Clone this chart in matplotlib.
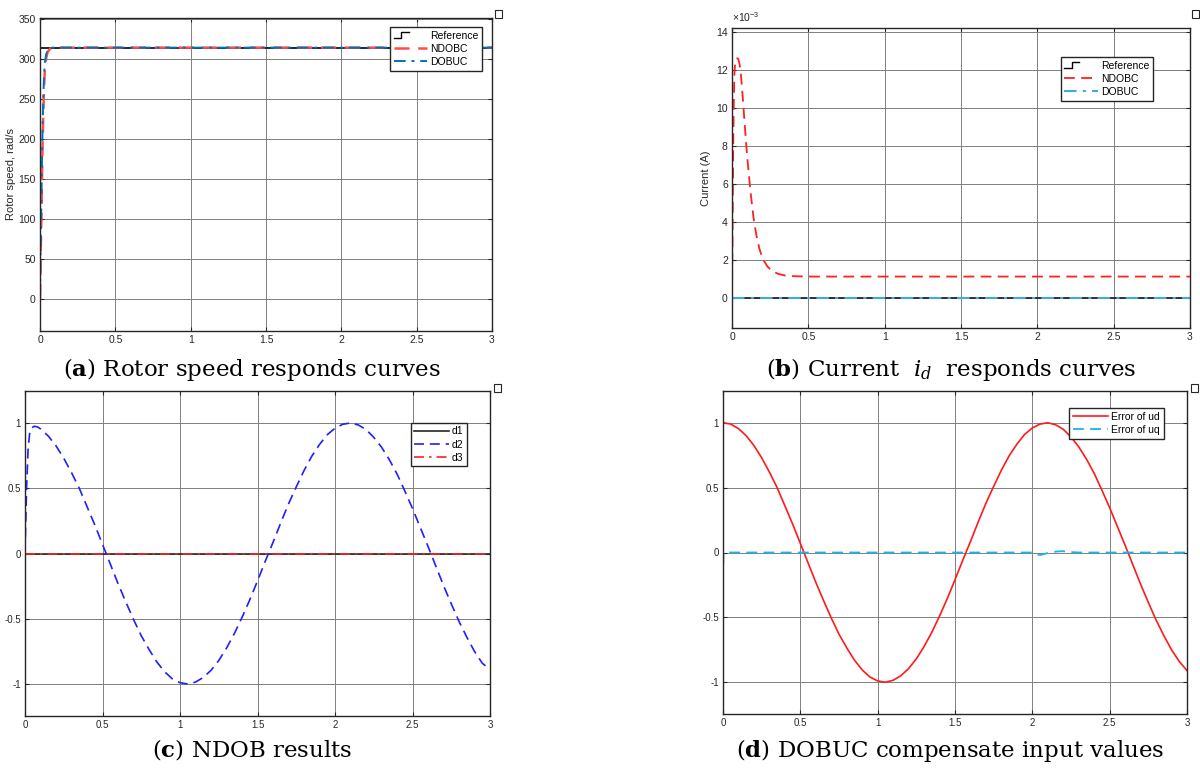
import matplotlib
matplotlib.use("Agg")
import matplotlib.pyplot as plt
import numpy as np
from matplotlib.legend_handler import HandlerBase
from matplotlib.lines import Line2D
from matplotlib.patches import Rectangle

# ---------------- data ----------------
# (a) rotor speed, rad/s
t_a = [0, 0.002, 0.004, 0.007, 0.01, 0.013, 0.017, 0.021, 0.026, 0.032, 0.04, 0.05, 0.06, 0.07, 0.085, 0.1, 3]
ref_a_t = [0, 0, 3]
ref_a = [0, 314, 314]
ndobc_a = [0, 25, 50, 80, 110, 150, 190, 225, 260, 285, 300, 308, 311, 313, 314, 314, 314]
dobuc_a = [0, 30, 60, 95, 130, 170, 210, 245, 275, 295, 305, 310, 312, 313.5, 314, 314, 314]

# (b) current id, A
t_b = [0, 0.004, 0.008, 0.012, 0.016, 0.02, 0.03, 0.04, 0.05, 0.06, 0.07, 0.08, 0.09, 0.1,
       0.12, 0.14, 0.16, 0.18, 0.2, 0.23, 0.26, 0.3, 0.35, 0.4, 0.45, 0.5, 3]
ndobc_b = np.array([0, 4.0, 8.0, 10.5, 11.8, 12.3, 12.6, 12.6, 12.3, 11.6, 10.6, 9.5, 8.4, 7.4,
                    5.7, 4.3, 3.3, 2.6, 2.1, 1.7, 1.45, 1.3, 1.2, 1.17, 1.16, 1.15, 1.15]) * 1e-3
ref_b_t = [0, 3]
ref_b = [0, 0]
dobuc_b = [0, 0]

# (c) NDOB results
t_c = [0, 0.01, 0.02, 0.03, 0.04, 0.06, 0.08, 0.1] + list(np.round(np.arange(0.15, 3.001, 0.05), 2))
d2 = [0, 0.5, 0.8, 0.92, 0.96, 0.975, 0.97, 0.955,
      0.90, 0.825, 0.73, 0.62, 0.50, 0.36, 0.22, 0.07, -0.08, -0.23, -0.37, -0.505,
      -0.63, -0.735, -0.83, -0.905, -0.96, -0.99, -1.0, -0.985, -0.95, -0.895, -0.82, -0.725,
      -0.615, -0.49, -0.355, -0.21, -0.06, 0.085, 0.235, 0.38, 0.51, 0.635, 0.745, 0.835,
      0.91, 0.96, 0.99, 1.0, 0.985, 0.95, 0.89, 0.815, 0.72, 0.61, 0.48, 0.345, 0.2, 0.055,
      -0.095, -0.245, -0.385, -0.52, -0.64, -0.75, -0.84, -0.89]
d_t = [0, 3]
d1 = [0, 0]
d3 = [0, 0]

# (d) DOBUC compensate input values
t_d = list(np.round(np.arange(0, 3.001, 0.05), 2))
ud = [1.0, 0.99, 0.955, 0.90, 0.825, 0.73, 0.62, 0.50, 0.36, 0.22, 0.07, -0.08, -0.23, -0.37,
      -0.505, -0.63, -0.735, -0.83, -0.905, -0.96, -0.99, -1.0, -0.985, -0.95, -0.895, -0.82,
      -0.725, -0.615, -0.49, -0.355, -0.21, -0.06, 0.085, 0.235, 0.38, 0.51, 0.635, 0.745,
      0.835, 0.91, 0.96, 0.99, 1.0, 0.985, 0.95, 0.89, 0.815, 0.72, 0.61, 0.48, 0.345, 0.2,
      0.055, -0.095, -0.245, -0.385, -0.52, -0.64, -0.75, -0.84, -0.91]
t_uq = [0, 0.003, 0.01, 2.0, 2.03, 2.05, 2.08, 2.12, 2.16, 2.2, 2.25, 2.3, 3]
uq = [-0.22, 0, 0, 0, -0.015, -0.02, -0.01, 0.0, 0.008, 0.01, 0.003, 0, 0]

x_ticks = [0, 0.5, 1, 1.5, 2, 2.5, 3]
x_labels = ["0", "0.5", "1", "1.5", "2", "2.5", "3"]

captions = [r"($\mathbf{a}$) Rotor speed responds curves",
            r"($\mathbf{b}$) Current  $i_d$  responds curves",
            r"($\mathbf{c}$) NDOB results",
            r"($\mathbf{d}$) DOBUC compensate input values"]

# ---------------- style ----------------
plt.rcParams["font.family"] = ["Liberation Sans", "DejaVu Sans"]
plt.rcParams["mathtext.fontset"] = "custom"
plt.rcParams["mathtext.rm"] = "DejaVu Serif"
plt.rcParams["mathtext.it"] = "DejaVu Serif:italic"
plt.rcParams["mathtext.bf"] = "DejaVu Serif:bold"
plt.rcParams["mathtext.sf"] = "Liberation Sans"

DASH = (0, (6, 3.5))
DASHDOT = (0, (6, 3, 1.5, 3))


class HandlerStep(HandlerBase):
    # little step icon MATLAB uses for a step source
    def create_artists(self, legend, orig_handle, xdescent, ydescent, width, height, fontsize, trans):
        w = width * 0.45
        xs = [-xdescent, -xdescent + w * 0.5, -xdescent + w * 0.5, -xdescent + w]
        ys = [-ydescent + height * 0.1, -ydescent + height * 0.1, -ydescent + height * 0.9, -ydescent + height * 0.9]
        ln = Line2D(xs, ys, color="black", lw=1.0, transform=trans)
        return [ln]


W, H = 1200, 770
fig = plt.figure(figsize=(12, 7.7), dpi=100)


def px_axes(l, t, r, b):
    return fig.add_axes([l / W, 1 - b / H, (r - l) / W, (b - t) / H])


def style(ax, ylim, yticks, ylabels, fs=7):
    ax.set_xlim(0, 3)
    ax.set_ylim(*ylim)
    ax.set_xticks(x_ticks)
    ax.set_xticklabels(x_labels)
    ax.set_yticks(yticks)
    ax.set_yticklabels(ylabels)
    ax.tick_params(direction="in", length=3, width=0.8, labelsize=fs, colors="#262626",
                   top=True, right=True, pad=3)
    ax.grid(True, color="#808080", lw=0.7)
    ax.set_axisbelow(True)
    for s in ax.spines.values():
        s.set_color("#262626")
        s.set_linewidth(1.0)


def add_legend(ax, handles, labels, anchor, hl=3.2, step=True):
    hmap = {handles[0]: HandlerStep()} if step else {}
    leg = ax.legend(handles, labels, loc="upper right", bbox_to_anchor=anchor, fontsize=7.5,
                    frameon=True, fancybox=False, framealpha=1, edgecolor="#262626",
                    handlelength=hl, handletextpad=0.3, borderpad=0.35, labelspacing=0.3,
                    borderaxespad=0, handler_map=hmap)
    leg.get_frame().set_linewidth(1.0)
    return leg


# ---------------- (a) ----------------
ax = px_axes(40, 18, 492, 331)
ax.plot(ref_a_t, ref_a, color="#262626", lw=1.4)
ax.plot(t_a, ndobc_a, color="#ff4d4d", lw=1.8, ls=DASH)
ax.plot(t_a, dobuc_a, color="#0072bd", lw=1.4, ls=DASHDOT)
style(ax, (-40, 351), [0, 50, 100, 150, 200, 250, 300, 350],
      ["0", "50", "100", "150", "200", "250", "300", "350"], fs=7.5)
ax.set_ylabel("Rotor speed, rad/s", fontsize=8, color="#262626", labelpad=2)
h = [Line2D([], [], color="k"),
     Line2D([], [], color="#ff4d4d", lw=1.8, ls=DASH),
     Line2D([], [], color="#0072bd", lw=1.4, ls=DASHDOT)]
add_legend(ax, h, ["Reference", "NDOBC", "DOBUC"], (0.978, 0.971))

# ---------------- (b) ----------------
ax = px_axes(732, 28, 1190, 328)
ax.plot(ref_b_t, ref_b, color="#262626", lw=1.3)
ax.plot(t_b, ndobc_b, color="#ff2020", lw=1.3, ls=DASH)
ax.plot(ref_b_t, dobuc_b, color="#3fa9e0", lw=1.5, ls=DASHDOT)
style(ax, (-1.55e-3, 14.2e-3), np.arange(0, 15, 2) * 1e-3, [str(v) for v in range(0, 15, 2)], fs=7.5)
ax.set_ylabel("Current (A)", fontsize=8, color="#262626", labelpad=4)
ax.text(0.0, 1.012, r"$\mathsf{\times 10^{-3}}$", transform=ax.transAxes, fontsize=7.5,
        color="#262626", ha="left", va="bottom")
h = [Line2D([], [], color="k"),
     Line2D([], [], color="#ff2020", lw=1.3, ls=DASH),
     Line2D([], [], color="#3fa9e0", lw=1.5, ls=DASHDOT)]
add_legend(ax, h, ["Reference", "NDOBC", "DOBUC"], (0.919, 0.903))

# ---------------- (c) ----------------
ax = px_axes(25, 391, 490, 716)
l1, = ax.plot(d_t, d1, color="#262626", lw=1.2)
l2, = ax.plot(t_c, d2, color="#1f1fff", lw=1.2, ls=DASH)
l3, = ax.plot(d_t, d3, color="#ff2020", lw=1.2, ls=DASHDOT)
style(ax, (-1.245, 1.245), [-1, -0.5, 0, 0.5, 1], ["-1", "-0.5", "0", "0.5", "1"], fs=7)
add_legend(ax, [l1, l2, l3], ["d1", "d2", "d3"], (0.951, 0.902), hl=3.3, step=False)

# ---------------- (d) ----------------
ax = px_axes(723, 391, 1187, 714)
l1, = ax.plot(t_d, ud, color="#ff1a1a", lw=1.2)
l2, = ax.plot(t_uq, uq, color="#1ab2f0", lw=1.3, ls=DASH)
style(ax, (-1.245, 1.245), [-1, -0.5, 0, 0.5, 1], ["-1", "-0.5", "0", "0.5", "1"], fs=7)
add_legend(ax, [l1, l2], ["Error of ud", "Error of uq"], (0.950, 0.947), hl=3.4, step=False)

# small export boxes at the corners
for bx, by in [(495, 10), (1192, 10), (494, 384), (1191, 384)]:
    fig.patches.append(Rectangle((bx / W, 1 - (by + 8) / H), 7 / W, 8 / H, transform=fig.transFigure,
                                 facecolor="white", edgecolor="#262626", lw=0.8))

# ---------------- captions ----------------
cap = dict(fontsize=16.5, family="DejaVu Serif", ha="center", va="baseline", color="black")
fig.text(252 / W, 1 - 376 / H, captions[0], **cap)
fig.text(951 / W, 1 - 376 / H, captions[1], **cap)
fig.text(252 / W, 1 - 757 / H, captions[2], **cap)
fig.text(950 / W, 1 - 757 / H, captions[3], **cap)

fig.savefig("out.png", dpi=100)
